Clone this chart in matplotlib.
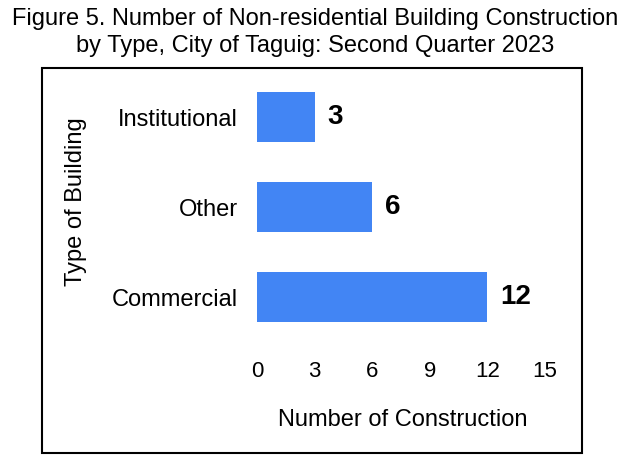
import matplotlib
matplotlib.use("Agg")
import matplotlib.pyplot as plt
import matplotlib.patches as mpatches

plt.rcParams["font.family"] = ["Liberation Sans", "DejaVu Sans"]

# data
building_types = ["Commercial", "Other", "Institutional"]
counts = [12, 6, 3]
x_ticks = [0, 3, 6, 9, 12, 15]

W, H = 630, 463
fig = plt.figure(figsize=(W / 100, H / 100), dpi=100)

# axes placed in pixel terms
left, right, top, bottom = 257, 545, 72, 342
ax = fig.add_axes([left / W, 1 - bottom / H, (right - left) / W, (bottom - top) / H])

bar_color = "#4285F4"
bars = ax.barh(building_types, counts, height=0.55, color=bar_color)
for b, v in zip(bars, counts):
    ax.annotate(str(v), xy=(b.get_width(), b.get_y() + b.get_height() / 2),
                xytext=(9, 0), textcoords="offset points",
                ha="left", va="center", fontsize=20, fontweight="bold")

ax.set_xlim(0, 15)
ax.set_ylim(-0.5, 2.5)
ax.set_xticks(x_ticks)
ax.tick_params(axis="x", length=0, labelsize=16, pad=14)
ax.tick_params(axis="y", length=0, labelsize=17, pad=14)
for s in ax.spines.values():
    s.set_visible(False)

fig.text(403 / W, 1 - 420 / H, "Number of Construction", ha="center", va="center", fontsize=17)
fig.text(76 / W, 1 - 202 / H, "Type of Building", ha="center", va="center",
         rotation=90, fontsize=17)

fig.text(0.5, 1 - 19 / H, "Figure 5. Number of Non-residential Building Construction",
         ha="center", va="center", fontsize=17)
fig.text(0.5, 1 - 46 / H, "by Type, City of Taguig: Second Quarter 2023",
         ha="center", va="center", fontsize=17)

# chart border
fig.patches.append(mpatches.Rectangle((42 / W, 1 - 453 / H), (582 - 42) / W, (453 - 68) / H,
                                      transform=fig.transFigure, fill=False,
                                      edgecolor="black", linewidth=1.5))

fig.savefig("out.png", dpi=100)
